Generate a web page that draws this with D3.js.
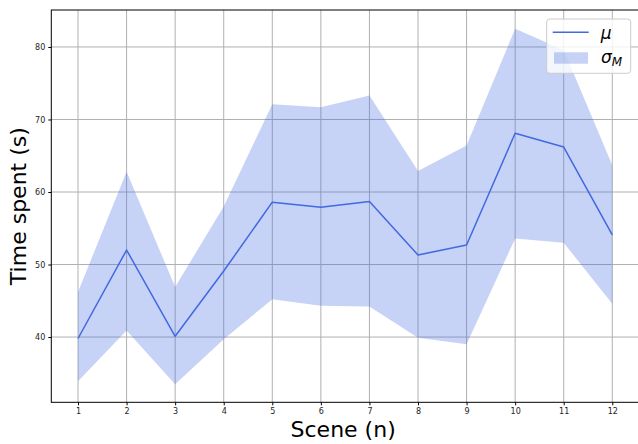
<!DOCTYPE html>
<html>
<head>
<meta charset="utf-8">
<script src="https://cdn.jsdelivr.net/npm/d3@7"></script>
<style>
  html, body { margin: 0; padding: 0; background: #fff; }
  svg { display: block; font-family: "DejaVu Sans", sans-serif; }
</style>
</head>
<body>
<svg id="chart" width="638" height="444"></svg>
<script>
// Scenes and timing statistics
const scenes = [1, 2, 3, 4, 5, 6, 7, 8, 9, 10, 11, 12];
const meanTime = [39.8, 52.0, 40.1, 49.1, 58.6, 57.9, 58.7, 51.3, 52.7, 68.1, 66.2, 54.1];
const upperTime = [46.2, 62.8, 46.9, 58.0, 72.1, 71.7, 73.3, 62.9, 66.4, 82.5, 79.6, 63.7];
const lowerTime = [33.9, 40.9, 33.5, 39.7, 45.2, 44.3, 44.2, 39.9, 39.0, 53.6, 53.0, 44.6];
const yTicks = [40, 50, 60, 70, 80];

const svg = d3.select("#chart");
const plotLeft = 51.3, plotRight = 639, plotTop = 10, plotBottom = 402.3;

const x = d3.scaleLinear().domain([0.45, 12.55]).range([plotLeft, plotRight]);
const y = d3.scaleLinear().domain([31.0, 85.1]).range([plotBottom, plotTop]);

const rows = scenes.map((s, i) => ({ s, m: meanTime[i], hi: upperTime[i], lo: lowerTime[i] }));

// grid
const grid = svg.append("g");
grid.selectAll("line.v").data(scenes).join("line")
  .attr("class", "v")
  .attr("x1", d => x(d)).attr("x2", d => x(d))
  .attr("y1", plotTop).attr("y2", plotBottom)
  .attr("stroke", "#b0b0b0").attr("stroke-width", 1);
grid.selectAll("line.h").data(yTicks).join("line")
  .attr("class", "h")
  .attr("x1", plotLeft).attr("x2", plotRight)
  .attr("y1", d => y(d)).attr("y2", d => y(d))
  .attr("stroke", "#b0b0b0").attr("stroke-width", 1);

// spread band
svg.append("path").datum(rows)
  .attr("d", d3.area().x(d => x(d.s)).y0(d => y(d.lo)).y1(d => y(d.hi)))
  .attr("fill", "#4169e1").attr("fill-opacity", 0.3);

// mean line
svg.append("path").datum(rows)
  .attr("d", d3.line().x(d => x(d.s)).y(d => y(d.m)))
  .attr("fill", "none").attr("stroke", "#4169e1").attr("stroke-width", 1.5)
  .attr("stroke-linejoin", "round");

// axes
const xAxis = d3.axisBottom(x).tickValues(scenes).tickSize(3).tickPadding(3).tickFormat(d3.format("d"));
const yAxis = d3.axisLeft(y).tickValues(yTicks).tickSize(3).tickPadding(3).tickFormat(d3.format("d"));

const gx = svg.append("g").attr("transform", `translate(0,${plotBottom})`).call(xAxis);
const gy = svg.append("g").attr("transform", `translate(${plotLeft},0)`).call(yAxis);
[gx, gy].forEach(g => {
  g.select(".domain").remove();
  g.selectAll("text").attr("font-size", 8).attr("fill", "#222").attr("font-family", "DejaVu Sans");
  g.selectAll("line").attr("stroke", "#000");
});

// spines
svg.append("rect")
  .attr("x", plotLeft).attr("y", plotTop)
  .attr("width", plotRight - plotLeft).attr("height", plotBottom - plotTop)
  .attr("fill", "none").attr("stroke", "#000").attr("stroke-width", 1);

// axis titles
svg.append("text")
  .attr("x", (plotLeft + plotRight) / 2 - 2).attr("y", 437)
  .attr("text-anchor", "middle").attr("font-size", 22).attr("fill", "#000")
  .text("Scene (n)");
svg.append("text")
  .attr("transform", `translate(26,${(plotTop + plotBottom) / 2}) rotate(-90)`)
  .attr("text-anchor", "middle").attr("font-size", 22).attr("fill", "#000")
  .text("Time spent (s)");

// legend
const lg = svg.append("g");
lg.append("rect")
  .attr("x", 546.7).attr("y", 19).attr("width", 84).attr("height", 54.3)
  .attr("rx", 3).attr("fill", "#fff").attr("fill-opacity", 0.8)
  .attr("stroke", "#ccc").attr("stroke-width", 1);
lg.append("line")
  .attr("x1", 552.7).attr("x2", 588.7).attr("y1", 32.3).attr("y2", 32.3)
  .attr("stroke", "#4169e1").attr("stroke-width", 1.5);
lg.append("rect")
  .attr("x", 554).attr("y", 52.3).attr("width", 34).attr("height", 11.4)
  .attr("fill", "#4169e1").attr("fill-opacity", 0.3);
lg.append("text")
  .attr("x", 600.7).attr("y", 38.5).attr("font-size", 17).attr("font-style", "italic")
  .attr("fill", "#000").text("μ");
const sig = lg.append("text")
  .attr("x", 601).attr("y", 63).attr("font-size", 17).attr("font-style", "italic")
  .attr("fill", "#000");
sig.append("tspan").text("σ");
sig.append("tspan").attr("font-size", 12).attr("dy", 3).text("M");
</script>
</body>
</html>
